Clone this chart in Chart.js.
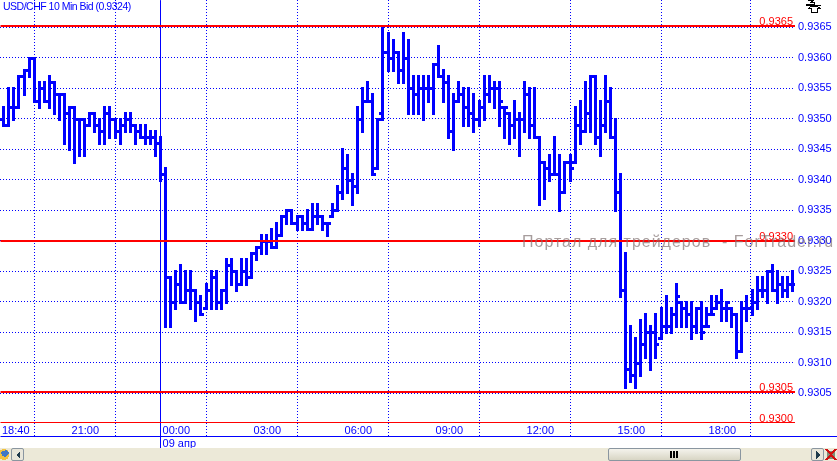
<!DOCTYPE html>
<html lang="ru">
<head>
<meta charset="UTF-8"/>
<title>USD/CHF 10 Min Bid</title>
<script src="https://cdn.jsdelivr.net/npm/chart.js@4.4.7/dist/chart.umd.min.js"></script>
<style>
*{box-sizing:border-box;margin:0;padding:0}
html,body{width:837px;height:461px;overflow:hidden;background:#fff}
#chart{position:absolute;left:0;top:0}
.strip{position:absolute;left:0;top:448px;width:837px;height:13px;background:#ece9d8}
.btn{position:absolute;top:0;height:13px;width:13px;background:#e8e6da;border:1px solid #8a96a0;border-radius:2px}
.thumb{position:absolute;left:608px;top:0;width:133px;height:13px;background:linear-gradient(#f4f3ec,#d8d5c4);border:1px solid #8a96a0;border-radius:2px}
svg{position:absolute;shape-rendering:crispEdges}
</style>
</head>
<body>
<canvas id="chart" width="837" height="448"></canvas>
<svg style="left:805px;top:0" width="16" height="14" viewBox="0 0 16 14" fill="none" stroke="#000">
  <path d="M2.5 0.5H8.5L5.5 2.5H9.5V4.5H0.5M0.5 5.5H15.5M5.5 6.5H12.5L15 8.5H12.5V12.5H6.5V8.5H3.5Z"/>
</svg>
<div class="strip">
  <svg style="left:0;top:0" width="10" height="13" viewBox="0 0 10 13" shape-rendering="auto">
    <circle cx="4" cy="6.5" r="5.5" fill="#f2c23e"/><path d="M1 4 L6 2 L9 5 L5 9 L2 8Z" fill="#3f78c4"/>
  </svg>
  <div class="btn" style="left:11px">
    <svg style="left:3px;top:2px" width="6" height="8" viewBox="0 0 6 8"><path d="M5 0V8L1 4Z" fill="#1e3a4c"/></svg>
  </div>
  <div class="thumb">
    <svg style="left:61px;top:2px" width="9" height="7" viewBox="0 0 9 7"><path d="M0 0h2v7H0zM3 0h2v7H3zM6 0h2v7H6z" fill="#000"/></svg>
  </div>
  <div class="btn" style="left:811px">
    <svg style="left:3px;top:2px" width="6" height="8" viewBox="0 0 6 8"><path d="M1 0V8L5 4Z" fill="#1e3a4c"/></svg>
  </div>
  <svg style="left:825px;top:0" width="12" height="13" viewBox="0 0 12 13" shape-rendering="auto">
    <path d="M2 3H10V11H2Z" fill="#7f8f7a"/><path d="M1 1L11 12M11 1L1 12" stroke="#d01010" stroke-width="2"/>
  </svg>
</div>
<script>
const seriesTitle = 'USD/CHF 10 Min Bid (0.9324)';
const watermark = 'Портал для трейдеров  - ForTrader.ru';

const opens = [
  0.9350,0.9350,0.9349,0.9352,0.9352,0.9357,0.9358,0.9360,0.9353,0.9355,
  0.9353,0.9356,0.9354,0.9354,0.9351,0.9352,0.9350,0.9350,0.9349,0.9351,
  0.9349,0.9348,0.9351,0.9350,0.9348,0.9349,0.9350,0.9349,0.9348,0.9347,
  0.9347,0.9347,0.9346,0.9341,0.9324,0.9320,0.9323,0.9320,0.9322,0.9322,
  0.9320,0.9319,0.9322,0.9324,0.9320,0.9322,0.9326,0.9325,0.9323,0.9325,
  0.9324,0.9328,0.9329,0.9330,0.9330,0.9329,0.9331,0.9334,0.9335,0.9333,
  0.9334,0.9333,0.9332,0.9334,0.9334,0.9333,0.9334,0.9335,0.9338,0.9342,
  0.9340,0.9339,0.9350,0.9353,0.9353,0.9342,0.9351,0.9361,0.9360,0.9361,
  0.9358,0.9360,0.9355,0.9354,0.9355,0.9355,0.9355,0.9359,0.9357,0.9356,
  0.9348,0.9353,0.9354,0.9352,0.9351,0.9350,0.9352,0.9354,0.9355,0.9355,
  0.9352,0.9351,0.9349,0.9350,0.9350,0.9354,0.9349,0.9347,0.9343,0.9342,
  0.9341,0.9341,0.9338,0.9343,0.9343,0.9349,0.9348,0.9351,0.9357,0.9347,
  0.9349,0.9353,0.9347,0.9338,0.9322,0.9309,0.9308,0.9310,0.9313,0.9315,
  0.9315,0.9314,0.9316,0.9316,0.9318,0.9320,0.9319,0.9318,0.9316,0.9319,
  0.9316,0.9318,0.9319,0.9320,0.9319,0.9319,0.9318,0.9312,0.9319,0.9319,
  0.9320,0.9322,0.9322,0.9325,0.9322,0.9323,0.9322,0.9323];
const highs = [
  0.9350,0.9352,0.9355,0.9355,0.9357,0.9358,0.9360,0.9360,0.9356,0.9356,
  0.9357,0.9356,0.9354,0.9354,0.9352,0.9352,0.9350,0.9350,0.9351,0.9351,
  0.9350,0.9352,0.9352,0.9350,0.9350,0.9351,0.9351,0.9349,0.9349,0.9349,
  0.9348,0.9348,0.9347,0.9342,0.9324,0.9325,0.9326,0.9325,0.9325,0.9322,
  0.9321,0.9323,0.9325,0.9325,0.9322,0.9327,0.9327,0.9325,0.9327,0.9327,
  0.9328,0.9329,0.9331,0.9331,0.9332,0.9333,0.9334,0.9335,0.9335,0.9334,
  0.9334,0.9335,0.9336,0.9336,0.9334,0.9333,0.9336,0.9339,0.9345,0.9344,
  0.9341,0.9352,0.9355,0.9356,0.9354,0.9350,0.9365,0.9364,0.9363,0.9361,
  0.9364,0.9363,0.9357,0.9357,0.9357,0.9357,0.9359,0.9362,0.9358,0.9357,
  0.9354,0.9356,0.9355,0.9355,0.9354,0.9353,0.9357,0.9357,0.9356,0.9356,
  0.9352,0.9351,0.9353,0.9351,0.9356,0.9355,0.9355,0.9347,0.9343,0.9344,
  0.9347,0.9344,0.9343,0.9344,0.9352,0.9353,0.9356,0.9357,0.9357,0.9353,
  0.9357,0.9355,0.9350,0.9341,0.9328,0.9316,0.9314,0.9317,0.9318,0.9316,
  0.9318,0.9319,0.9321,0.9319,0.9323,0.9320,0.9320,0.9320,0.9319,0.9320,
  0.9319,0.9321,0.9321,0.9322,0.9320,0.9319,0.9318,0.9320,0.9321,0.9322,
  0.9324,0.9324,0.9325,0.9326,0.9325,0.9324,0.9324,0.9325];
const lows = [
  0.9345,0.9349,0.9349,0.9350,0.9352,0.9354,0.9357,0.9353,0.9352,0.9353,
  0.9352,0.9351,0.9350,0.9346,0.9345,0.9343,0.9344,0.9344,0.9349,0.9348,
  0.9346,0.9346,0.9347,0.9347,0.9346,0.9348,0.9348,0.9346,0.9347,0.9346,
  0.9346,0.9344,0.9340,0.9316,0.9316,0.9319,0.9320,0.9320,0.9319,0.9317,
  0.9318,0.9319,0.9319,0.9319,0.9319,0.9320,0.9323,0.9322,0.9323,0.9323,
  0.9324,0.9327,0.9328,0.9328,0.9329,0.9329,0.9331,0.9333,0.9333,0.9332,
  0.9332,0.9332,0.9332,0.9333,0.9332,0.9331,0.9334,0.9335,0.9337,0.9338,
  0.9336,0.9338,0.9348,0.9353,0.9341,0.9342,0.9350,0.9358,0.9358,0.9356,
  0.9356,0.9351,0.9351,0.9351,0.9350,0.9353,0.9351,0.9357,0.9353,0.9347,
  0.9345,0.9353,0.9349,0.9349,0.9348,0.9349,0.9350,0.9353,0.9352,0.9349,
  0.9347,0.9346,0.9347,0.9344,0.9348,0.9347,0.9347,0.9336,0.9337,0.9340,
  0.9341,0.9335,0.9338,0.9340,0.9343,0.9346,0.9348,0.9348,0.9346,0.9344,
  0.9348,0.9347,0.9335,0.9321,0.9306,0.9307,0.9306,0.9308,0.9311,0.9309,
  0.9311,0.9314,0.9315,0.9315,0.9316,0.9316,0.9316,0.9314,0.9315,0.9314,
  0.9316,0.9318,0.9319,0.9317,0.9317,0.9316,0.9311,0.9312,0.9317,0.9318,
  0.9319,0.9321,0.9320,0.9322,0.9320,0.9321,0.9321,0.9322];
const closes = [
  0.9350,0.9349,0.9352,0.9352,0.9357,0.9358,0.9360,0.9353,0.9355,0.9353,
  0.9356,0.9354,0.9354,0.9351,0.9352,0.9350,0.9350,0.9349,0.9351,0.9349,
  0.9348,0.9351,0.9350,0.9348,0.9349,0.9350,0.9349,0.9348,0.9347,0.9347,
  0.9347,0.9346,0.9341,0.9324,0.9320,0.9323,0.9320,0.9322,0.9322,0.9320,
  0.9318,0.9322,0.9324,0.9320,0.9322,0.9326,0.9325,0.9323,0.9325,0.9324,
  0.9328,0.9329,0.9330,0.9330,0.9329,0.9331,0.9334,0.9335,0.9333,0.9334,
  0.9333,0.9332,0.9334,0.9334,0.9333,0.9333,0.9335,0.9338,0.9342,0.9340,
  0.9339,0.9350,0.9353,0.9353,0.9341,0.9350,0.9361,0.9360,0.9361,0.9358,
  0.9360,0.9355,0.9354,0.9355,0.9355,0.9355,0.9359,0.9357,0.9356,0.9348,
  0.9353,0.9354,0.9352,0.9351,0.9350,0.9352,0.9354,0.9355,0.9355,0.9353,
  0.9352,0.9349,0.9350,0.9350,0.9354,0.9349,0.9347,0.9343,0.9342,0.9341,
  0.9341,0.9338,0.9343,0.9342,0.9349,0.9348,0.9351,0.9357,0.9347,0.9349,
  0.9353,0.9347,0.9338,0.9322,0.9309,0.9308,0.9310,0.9313,0.9315,0.9315,
  0.9313,0.9316,0.9316,0.9318,0.9321,0.9319,0.9318,0.9316,0.9319,0.9315,
  0.9316,0.9318,0.9320,0.9319,0.9320,0.9318,0.9312,0.9319,0.9319,0.9320,
  0.9322,0.9322,0.9325,0.9322,0.9323,0.9322,0.9323,0.9323];

const yTicks = [0.9365,0.9360,0.9355,0.9350,0.9345,0.9340,0.9335,0.9330,0.9325,0.9320,0.9315,0.9310,0.9305];
const yMin = 0.930013, yMax = 0.936948;

// bar index of each time label, 18:40 is the first bar, last entry is the right edge
const xTicks = [0.25,14,32,50,68,86,104,122,140,157.5];
const xLabels = ['18:40','21:00',['00:00','09 апр'],'03:00','06:00','09:00','12:00','15:00','18:00',''];
const xMin = 0.25, xMax = 157.5;

const levelValues = [0.93652,0.9330,0.93052,0.93002];
const levelLabels = ['0.9365','0.9330','0.9305','0.9300'];
const levelWidths = [2,2,2,1];

const sessionBar = 32;
const sessionLow = 0.92960;   // under the axis, down to the scroll strip
const axisRuleValue = 0.92979;
const axisRuleEnd = 166;

const BLUE = '#0000ff', RED = '#ff0000';
const font = { family: '"Liberation Sans", Arial, sans-serif', size: 11 };
const fontCss = '11px "Liberation Sans", Arial, sans-serif';

const idx = opens.map((_, i) => i);

// the original is drawn on whole pixels, so pull the marks onto the pixel grid
const snapMarks = {
  id: 'snapMarks',
  afterDatasetsUpdate(chart) {
    chart.data.datasets.forEach((ds, d) => {
      const meta = chart.getDatasetMeta(d);
      meta.data.forEach((el) => {
        if (ds.mark === 'stem') {
          el.x = Math.floor(el.x) + 0.5;
          el.y = Math.round(el.y) - 1;
          el.base = Math.round(el.base) + 2;
        } else if (ds.mark === 'open' || ds.mark === 'close') {
          el.x = Math.floor(el.x) + 0.5 + (ds.mark === 'open' ? -2 : 2);
          el.y = Math.round(el.y) + 0.5;
        } else if (ds.mark === 'rule') {
          el.x = Math.floor(el.x) + 0.5;
          el.y = ds.borderWidth === 2 ? Math.round(el.y) : Math.floor(el.y) + 0.5;
        }
      });
    });
  },
};

const chartText = {
  id: 'chartText',
  afterDraw(chart) {
    const { ctx, scales: { y }, chartArea } = chart;
    ctx.save();
    ctx.textBaseline = 'alphabetic';
    ctx.textAlign = 'left';
    ctx.fillStyle = BLUE;
    ctx.font = '10.5px "Liberation Sans", Arial, sans-serif';
    ctx.letterSpacing = '-0.5px';
    ctx.fillText(seriesTitle, 3, 10);
    ctx.letterSpacing = '0px';
    ctx.font = fontCss;
    ctx.textAlign = 'right';
    ctx.fillStyle = RED;
    levelValues.forEach((v, i) => {
      ctx.fillText(levelLabels[i], chartArea.right - 2, Math.round(y.getPixelForValue(v)) - 1);
    });
    ctx.textAlign = 'left';
    ctx.font = '16px "Liberation Sans", Arial, sans-serif';
    ctx.letterSpacing = '1px';
    ctx.fillStyle = 'rgba(130,115,115,0.7)';
    ctx.fillText(watermark, 522, 247);
    ctx.restore();
  },
};

function flatPadding(scale) {
  scale.paddingLeft = scale.paddingRight = scale.paddingTop = scale.paddingBottom = 0;
}

new Chart(document.getElementById('chart'), {
  type: 'bar',
  data: {
    datasets: [
      ...levelValues.map((v, i) => ({
        type: 'line', mark: 'rule', order: 1, borderColor: RED, borderWidth: levelWidths[i],
        pointRadius: 0, data: [{ x: xMin, y: v }, { x: xMax, y: v }],
      })),
      { type: 'scatter', mark: 'open', order: 2, pointStyle: 'rect', pointRadius: 2.1214, borderWidth: 0,
        backgroundColor: BLUE, data: idx.map((i) => ({ x: i, y: opens[i] })) },
      { type: 'scatter', mark: 'close', order: 2, pointStyle: 'rect', pointRadius: 2.1214, borderWidth: 0,
        backgroundColor: BLUE, data: idx.map((i) => ({ x: i, y: closes[i] })) },
      { type: 'bar', mark: 'stem', order: 3, backgroundColor: BLUE, barThickness: 3, borderWidth: 0,
        inflateAmount: 0, data: idx.map((i) => ({ x: i, y: [lows[i], highs[i]] })) },
      { type: 'line', mark: 'rule', order: 4, clip: false, borderColor: BLUE, borderWidth: 1, pointRadius: 0,
        data: [{ x: sessionBar, y: yMax }, { x: sessionBar, y: sessionLow }] },
      { type: 'line', mark: 'rule', order: 4, clip: false, borderColor: BLUE, borderWidth: 1, pointRadius: 0,
        data: [{ x: xMin, y: axisRuleValue }, { x: axisRuleEnd, y: axisRuleValue }] },
    ],
  },
  options: {
    responsive: false,
    animation: false,
    events: [],
    layout: { autoPadding: false, padding: 0 },
    plugins: { legend: { display: false }, title: { display: false }, tooltip: { enabled: false } },
    scales: {
      x: {
        type: 'linear',
        min: xMin,
        max: xMax,
        offset: false,
        afterBuildTicks: (s) => { s.ticks = xTicks.map((value) => ({ value })); },
        afterFit: (s) => { s.height = 25; flatPadding(s); },
        border: { display: false, dash: [1, 2] },
        grid: {
          color: (c) => (c.index === 0 ? 'transparent' : BLUE),
          tickColor: (c) => (c.index === 0 ? 'transparent' : BLUE),
          tickLength: 13,
          tickBorderDash: [1, 2],
        },
        ticks: {
          autoSkip: false, maxRotation: 0, minRotation: 0, align: 'start', labelOffset: 2, padding: -12,
          color: BLUE, font, callback: (v, i) => xLabels[i],
        },
      },
      y: {
        position: 'right',
        min: yMin,
        max: yMax,
        afterBuildTicks: (s) => { s.ticks = yTicks.map((value) => ({ value })); },
        afterFit: (s) => { s.width = 42; flatPadding(s); },
        border: { display: false, dash: [1, 2] },
        grid: { color: BLUE, drawTicks: false },
        ticks: { autoSkip: false, padding: 3, color: BLUE, font, callback: (v) => v.toFixed(4) },
      },
    },
  },
  plugins: [snapMarks, chartText],
});
</script>
</body>
</html>
